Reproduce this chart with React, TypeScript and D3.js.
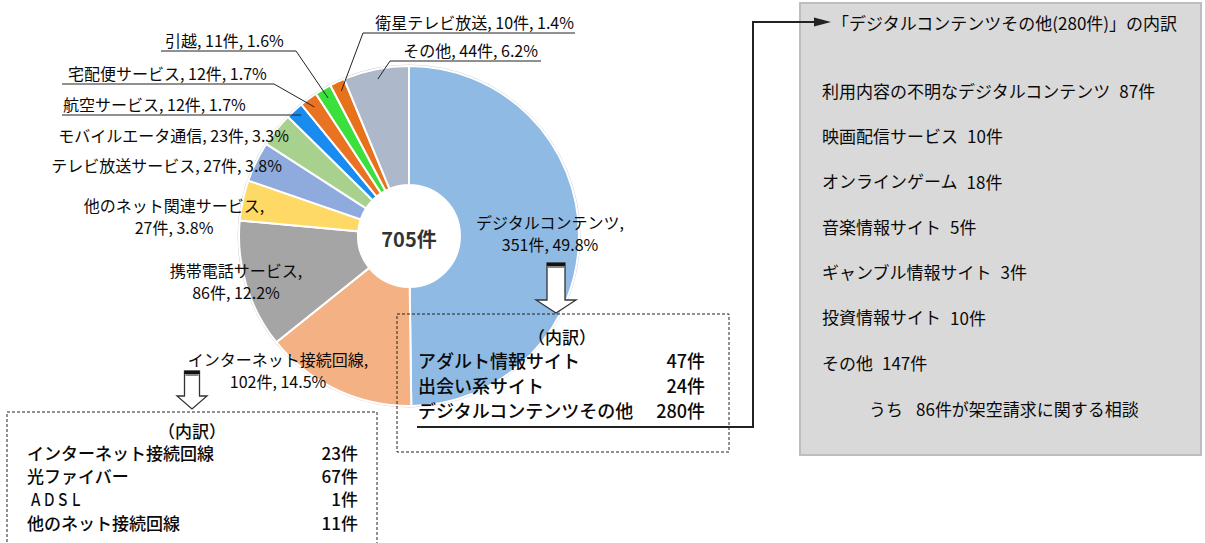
import * as d3 from 'd3';

// slices, clockwise from 12 o'clock
const categories = [
  'デジタルコンテンツ',
  'インターネット接続回線',
  '携帯電話サービス',
  '他のネット関連サービス',
  'テレビ放送サービス',
  'モバイルエータ通信',
  '航空サービス',
  '宅配便サービス',
  '引越',
  '衛星テレビ放送',
  'その他',
];
const counts = [351, 102, 86, 27, 27, 23, 12, 12, 11, 10, 44];
const percents = ['49.8%', '14.5%', '12.2%', '3.8%', '3.8%', '3.3%', '1.7%', '1.7%', '1.6%', '1.4%', '6.2%'];
const total = 705;

const colors = [
  '#8EBAE4', '#F4B183', '#A5A5A5', '#FFD966', '#8FAADC', '#A9D18E',
  '#1A8CF0', '#E97223', '#3CE03C', '#E8721C', '#ADB9CA',
];

const digitalItems = ['アダルト情報サイト', '出会い系サイト', 'デジタルコンテンツその他'];
const digitalCounts = [47, 24, 280];

const netItems = ['インターネット接続回線', '光ファイバー', 'ＡＤＳＬ', '他のネット接続回線'];
const netCounts = [23, 67, 1, 11];

const otherItems = [
  '利用内容の不明なデジタルコンテンツ',
  '映画配信サービス',
  'オンラインゲーム',
  '音楽情報サイト',
  'ギャンブル情報サイト',
  '投資情報サイト',
  'その他',
];
const otherCounts = [87, 10, 18, 5, 3, 10, 147];
const fraudCount = 86;

const FONT = '"Noto Sans CJK JP", "Noto Sans", sans-serif';
const INK = '#0a0a0a';

// label placement per slice (layout only)
type Lab = {
  x: number;
  y: number;
  anchor: 'start' | 'middle' | 'end';
  split?: boolean;
  line?: [number, number]; // underline x range, drawn at y + 11 (0 = run to the slice)
  leader?: 'start' | 'end';
};
const labelLayout: Lab[] = [
  { x: 550, y: 222, anchor: 'middle', split: true },
  { x: 278, y: 359, anchor: 'middle', split: true },
  { x: 236, y: 270, anchor: 'middle', split: true },
  { x: 174, y: 205, anchor: 'middle', split: true },
  { x: 282, y: 165, anchor: 'end' },
  { x: 289, y: 135, anchor: 'end' },
  { x: 63, y: 104, anchor: 'start', line: [62, 0], leader: 'end' },
  { x: 68, y: 73, anchor: 'start', line: [62, 274], leader: 'end' },
  { x: 165, y: 40, anchor: 'start', line: [161, 296], leader: 'end' },
  { x: 574, y: 22, anchor: 'end', line: [363, 575], leader: 'start' },
  { x: 538, y: 50, anchor: 'end', line: [390, 541], leader: 'start' },
];

function DownArrow({ cx, top, headY, tip, shaftW, headW }: any) {
  const p = d3.path();
  p.moveTo(cx - shaftW / 2, top);
  p.lineTo(cx + shaftW / 2, top);
  p.lineTo(cx + shaftW / 2, headY);
  p.lineTo(cx + headW / 2, headY);
  p.lineTo(cx, tip);
  p.lineTo(cx - headW / 2, headY);
  p.lineTo(cx - shaftW / 2, headY);
  p.closePath();
  return (
    <g>
      <path d={p.toString()} fill="#fff" stroke="#333" strokeWidth={1.3} />
      <rect x={cx - shaftW / 2} y={top} width={shaftW} height={3} fill="#111" />
      <rect x={cx - shaftW / 2 + 1} y={top + 3} width={shaftW - 2} height={2} fill="#888" />
    </g>
  );
}

export default function App() {
  const W = 1205;
  const H = 543;
  const cx = 409;
  const cy = 236;
  const rOuter = 170;
  const rInner = 51;

  const pie = d3
    .pie<number>()
    .sort(null)
    .value((d) => d)
    .startAngle(0)
    .endAngle(2 * Math.PI);
  const arcs = pie(counts);
  const arc = d3.arc<d3.PieArcDatum<number>>().innerRadius(rInner).outerRadius(rOuter);
  const leaderArc = d3.arc<d3.PieArcDatum<number>>().innerRadius(160).outerRadius(160);

  const yDigital = d3.scalePoint<string>().domain(digitalItems).range([360, 410]);
  const yNet = d3.scalePoint<string>().domain(netItems).range([452, 522]);
  const yOther = d3.scalePoint<string>().domain(otherItems).range([90, 362]);

  return (
    <svg
      width={W}
      height={H}
      style={{ position: 'absolute', left: 0, top: 0, display: 'block' }}
      fontFamily={FONT}
    >
      <rect width={W} height={H} fill="#fff" />

      {/* right grey box */}
      <rect x={800} y={3} width={401} height={452} fill="#D9D9D9" stroke="#BDBDBD" strokeWidth={2} />

      {/* donut */}
      <g transform={`translate(${cx},${cy})`}>
        <circle r={rOuter + 1} fill="none" stroke="#D0D0D0" strokeWidth={1} />
        {arcs.map((a, i) => (
          <path key={categories[i]} d={arc(a) ?? ''} fill={colors[i]} stroke="#fff" strokeWidth={2} />
        ))}
        <text
          x={0}
          y={2}
          textAnchor="middle"
          dominantBaseline="central"
          fontSize={20}
          fontWeight={700}
          fill="#333"
        >
          {total}件
        </text>
      </g>

      {/* slice labels */}
      {arcs.map((a, i) => {
        const L = labelLayout[i];
        const name = categories[i];
        const tail = `${counts[i]}件, ${percents[i]}`;
        const [px, py] = leaderArc.centroid(a);
        const lx = cx + px;
        const ly = cy + py;
        const uy = L.y + 11;
        let under: any = null;
        let leader: any = null;
        if (L.line) {
          const x1 = L.line[0];
          const x2 = L.line[1] || lx;
          under = <line x1={x1} x2={x2} y1={uy} y2={uy} stroke="#222" strokeWidth={1.2} />;
          const ex = L.leader === 'start' ? x1 : x2;
          if (L.line[1]) {
            leader = <line x1={ex} y1={uy} x2={lx} y2={ly} stroke="#222" strokeWidth={1} />;
          }
        }
        return (
          <g key={name}>
            {under}
            {leader}
            {L.split ? (
              <text textAnchor="middle" fontSize={16} fill={INK}>
                <tspan x={L.x} y={L.y} dominantBaseline="central">
                  {name},
                </tspan>
                <tspan x={L.x} y={L.y + 22} dominantBaseline="central">
                  {tail}
                </tspan>
              </text>
            ) : (
              <text
                x={L.x}
                y={L.y}
                textAnchor={L.anchor}
                dominantBaseline="central"
                fontSize={16}
                fill={INK}
              >
                {name}, {tail}
              </text>
            )}
          </g>
        );
      })}

      {/* digital contents breakdown */}
      <DownArrow cx={556} top={263} headY={300} tip={313} shaftW={18} headW={40} />
      <rect x={397} y={314} width={332} height={138} fill="none" stroke="#222" strokeWidth={1} strokeDasharray="3,2" />
      <text x={562} y={336} textAnchor="middle" dominantBaseline="central" fontSize={17} fontWeight={500} fill={INK}>
        （内訳）
      </text>
      {digitalItems.map((d, i) => (
        <g key={d}>
          <text x={418} y={yDigital(d)} dominantBaseline="central" fontSize={18} fontWeight={500} fill={INK}>
            {d}
          </text>
          <text x={705} y={yDigital(d)} textAnchor="end" dominantBaseline="central" fontSize={18} fontWeight={500} fill={INK}>
            {digitalCounts[i]}件
          </text>
        </g>
      ))}

      {/* connector to grey box */}
      <polyline points="417,427 753,427 753,22 816,22" fill="none" stroke="#222" strokeWidth={2} />
      <path d="M814,17.5 L831,22 L814,26.5 Z" fill="#222" />

      {/* internet line breakdown */}
      <DownArrow cx={192} top={371} headY={396} tip={409} shaftW={15} headW={30} />
      <rect x={7} y={412} width={370} height={140} fill="none" stroke="#222" strokeWidth={1} strokeDasharray="3,2" />
      <text x={192} y={430} textAnchor="middle" dominantBaseline="central" fontSize={17} fontWeight={500} fill={INK}>
        （内訳）
      </text>
      {netItems.map((d, i) => (
        <g key={d}>
          {d === 'ＡＤＳＬ' ? (
            <text
              x={29}
              y={yNet(d)}
              dominantBaseline="central"
              fontSize={17}
              fontWeight={500}
              fill={INK}
              textLength={54}
              lengthAdjust="spacingAndGlyphs"
            >
              {d}
            </text>
          ) : (
            <text x={27} y={yNet(d)} dominantBaseline="central" fontSize={17} fontWeight={500} fill={INK}>
              {d}
            </text>
          )}
          <text x={358} y={yNet(d)} textAnchor="end" dominantBaseline="central" fontSize={17} fontWeight={500} fill={INK}>
            {netCounts[i]}件
          </text>
        </g>
      ))}

      {/* other digital contents detail */}
      <text x={832} y={22} dominantBaseline="central" fontSize={17} fill={INK}>
        「デジタルコンテンツその他(280件)」の内訳
      </text>
      {otherItems.map((d, i) => (
        <text key={d} x={822} y={yOther(d)} dominantBaseline="central" fontSize={17} fill={INK}>
          {d}
          <tspan dx={9}>{otherCounts[i]}件</tspan>
        </text>
      ))}
      <text x={869} y={408} dominantBaseline="central" fontSize={17} fill={INK}>
        うち
        <tspan dx={13}>{fraudCount}件が架空請求に関する相談</tspan>
      </text>
    </svg>
  );
}
